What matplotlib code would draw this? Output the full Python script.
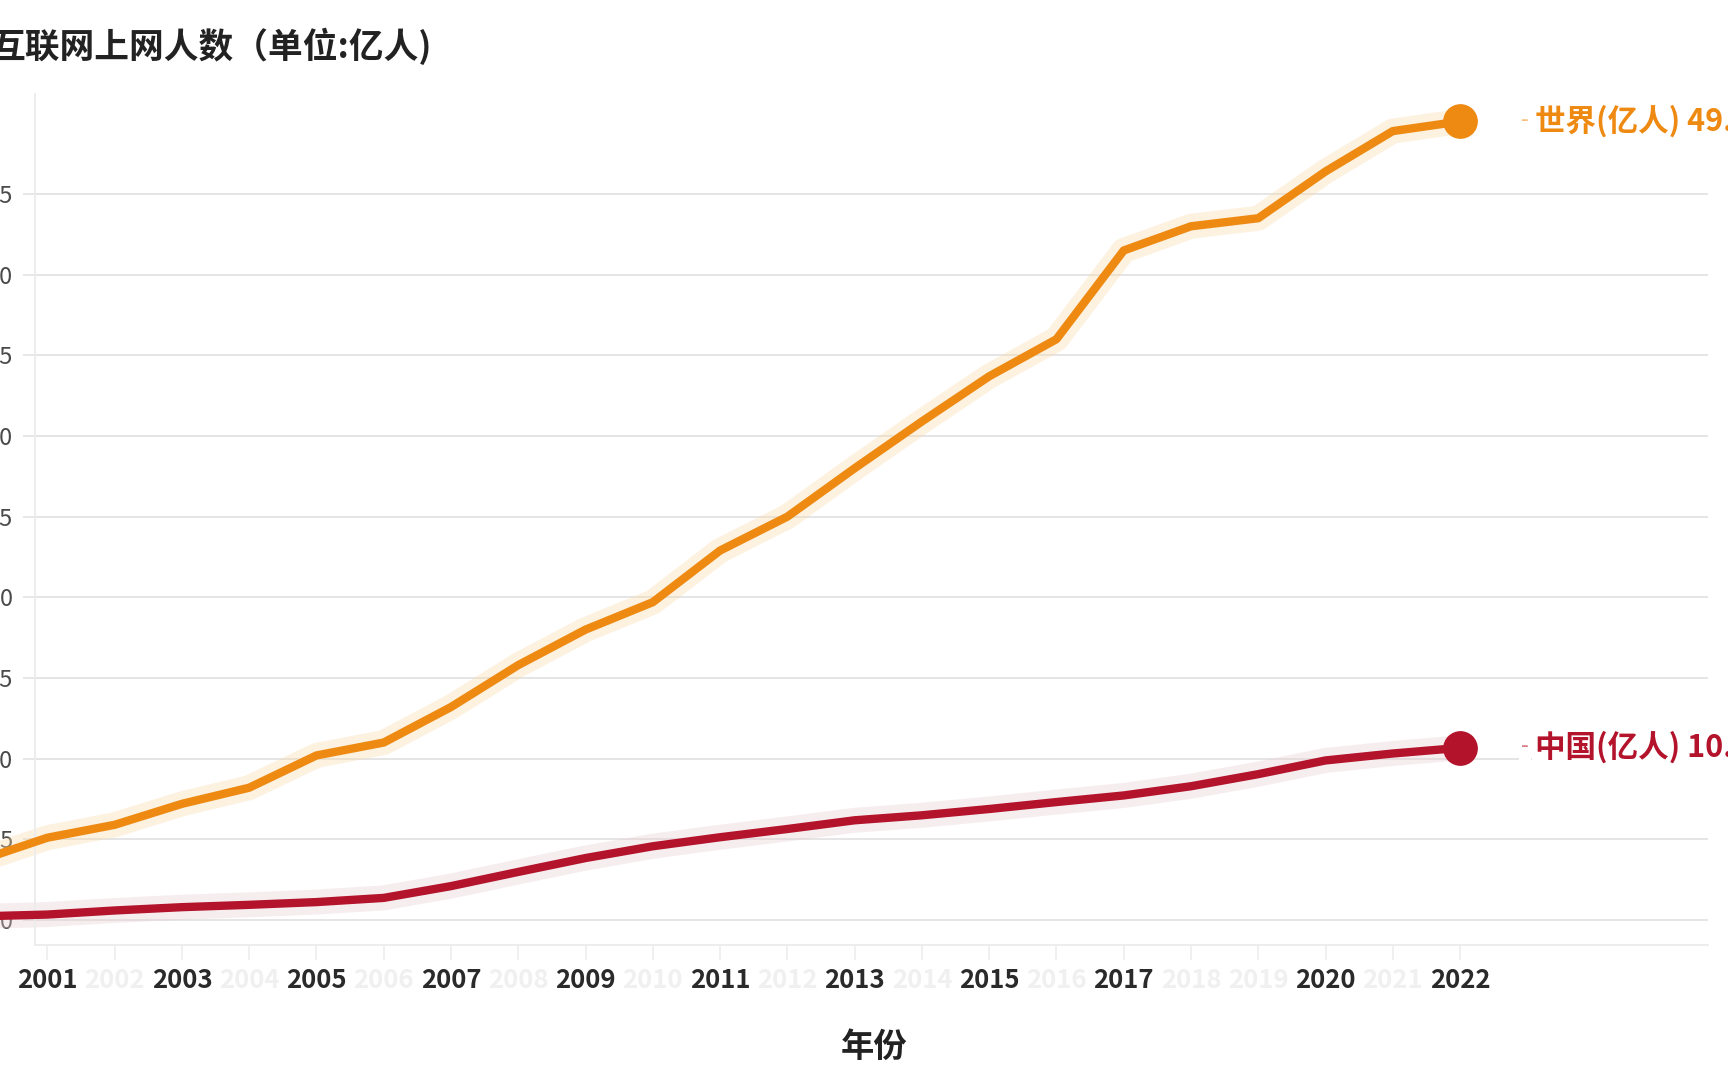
import matplotlib.pyplot as plt

plt.rcParams['font.family'] = ['Noto Sans CJK SC', 'DejaVu Sans']
plt.rcParams['axes.unicode_minus'] = False

# 数据 (亿人)
YEARS = list(range(2000, 2023))
WORLD = [3.7, 5.1, 5.9, 7.2, 8.2, 10.2, 11.0, 13.2, 15.8, 18.0, 19.7, 22.9,
         25.0, 28.0, 30.9, 33.7, 36.0, 41.5, 43.0, 43.5, 46.4, 48.9, 49.5]
CHINA = [0.225, 0.337, 0.59, 0.795, 0.94, 1.11, 1.37, 2.1, 2.98, 3.84, 4.57, 5.13,
         5.64, 6.18, 6.49, 6.88, 7.31, 7.72, 8.29, 9.04, 9.89, 10.32, 10.67]
SERIES_NAMES = ['世界(亿人)', '中国(亿人)']
Y_TICKS = [0, 5, 10, 15, 20, 25, 30, 35, 40, 45]
BOLD_YEARS = [2001, 2003, 2005, 2007, 2009, 2011, 2013, 2015, 2017, 2020, 2022]

ORANGE = '#EE8A12'
RED = '#B3132B'

fig = plt.figure(figsize=(17.28, 10.8), dpi=100)
ax = fig.add_axes([35 / 1728, 135 / 1080, 1673 / 1728, 851 / 1080])

# 网格 & 轴
ax.set_xlim(2000.816, 2025.686)
ax.set_ylim(-1.55, 51.2)
ax.set_yticks(Y_TICKS)
ax.set_yticklabels([str(v) for v in Y_TICKS], fontsize=17, color='#4a4a4a')
ax.grid(axis='y', color='#e3e3e3', linewidth=1.3)
ax.set_axisbelow(True)
for side in ['top', 'right']:
    ax.spines[side].set_visible(False)
for side in ['left', 'bottom']:
    ax.spines[side].set_color('#ececec')
    ax.spines[side].set_linewidth(1.3)
ax.tick_params(axis='y', length=9, color='#e3e3e3', pad=7, width=1.2)

ax.set_xticks(YEARS[1:])
ax.set_xticklabels([str(y) for y in YEARS[1:]], fontsize=18.5, fontweight='bold')
for lbl, y in zip(ax.get_xticklabels(), YEARS[1:]):
    lbl.set_color('#2a2a2a' if y in BOLD_YEARS else '#f0f0f0')
ax.tick_params(axis='x', length=11, color='#eeeeee', pad=5, width=1.2)

# 折线 (带光晕)
def draw_series(values, color, glow, name):
    ax.plot(YEARS, values, color=glow, linewidth=18, alpha=0.35,
            solid_capstyle='round', clip_on=False, zorder=2)
    ax.plot(YEARS, values, color=color, linewidth=6, solid_joinstyle='round',
            clip_on=False, zorder=3)
    ax.plot(YEARS[-1], values[-1], 'o', color=color, markersize=24, zorder=4,
            clip_on=False)
    ax.annotate('-', (YEARS[-1], values[-1]), xytext=(44, 1),
                textcoords='offset points', va='center', ha='left',
                color=color, alpha=0.55, fontsize=16,
                bbox=dict(boxstyle='square,pad=0.1', fc='white', ec='none'),
                zorder=5, annotation_clip=False)
    ax.annotate(f'{name} {values[-1]:.1f}', (YEARS[-1], values[-1]),
                xytext=(54, 0), textcoords='offset points', va='center',
                ha='left', color=color, fontsize=22, fontweight='bold',
                bbox=dict(boxstyle='square,pad=0.1', fc='white', ec='none'),
                zorder=5, annotation_clip=False)

draw_series(WORLD, ORANGE, '#fbd9a8', SERIES_NAMES[0])
draw_series(CHINA, RED, '#e8cdd3', SERIES_NAMES[1])

fig.text(-10 / 1728, 1 - 46 / 1080, '互联网上网人数（单位:亿人)', fontsize=25,
         fontweight='bold', color='#222222', va='center', ha='left')
fig.text(874 / 1728, 1 - 1047 / 1080, '年份', fontsize=24, fontweight='bold',
         color='#222222', va='center', ha='center')

plt.savefig('out.png', dpi=100)
